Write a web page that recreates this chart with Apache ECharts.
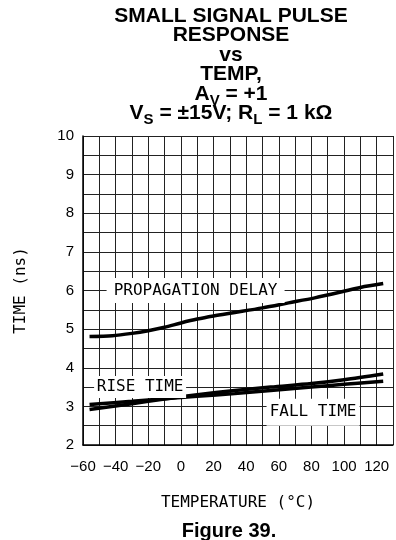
<!DOCTYPE html>
<html>
<head>
<meta charset="utf-8">
<script src="https://cdn.jsdelivr.net/npm/echarts@6/dist/echarts.min.js"></script>
<style>html,body{margin:0;padding:0;background:#fff;}#c{width:396px;height:540px;}</style>
</head>
<body>
<div id="c"></div>
<script>
// Data
const propTemp = [-56, -42, -30, -20, -10, 0, 10, 20, 33, 50, 66, 82, 98, 110, 124];
const propDelay = [4.81, 4.83, 4.89, 4.96, 5.05, 5.16, 5.26, 5.34, 5.43, 5.55, 5.68, 5.81, 5.96, 6.08, 6.18];
const riseTemp = [-56, -30, -10, 10, 33, 55, 80, 100, 124];
const riseTime = [3.05, 3.13, 3.2, 3.26, 3.33, 3.41, 3.5, 3.57, 3.65];
const fallTemp = [-56, -30, -10, 10, 33, 55, 80, 100, 124];
const fallTime = [2.92, 3.07, 3.19, 3.3, 3.41, 3.5, 3.59, 3.69, 3.84];
const xTickLabels = [-60, -40, -20, 0, 20, 40, 60, 80, 100, 120];
const yTickLabels = [2, 3, 4, 5, 6, 7, 8, 9, 10];

const pairs = (xs, ys) => xs.map((x, i) => [x, ys[i]]);
const monoFont = "'DejaVu Sans Mono', 'Liberation Mono', monospace";
const tickFont = "'Liberation Sans Narrow', 'Arial Narrow', 'Liberation Sans', sans-serif";
const boldFont = "'Liberation Sans', Arial, sans-serif";

function boxLabel(coord, text, w, h) {
  return {
    coord: coord, symbol: 'rect', symbolSize: [w, h],
    itemStyle: { color: '#fff' },
    label: { show: true, position: 'inside', formatter: text, color: '#000', fontFamily: monoFont, fontSize: 16 }
  };
}

const lineStyle = { color: '#000', width: 3.5 };
const chart = echarts.init(document.getElementById('c'));
chart.setOption({
  animation: false,
  backgroundColor: '#fff',
  title: [{
    text: 'SMALL SIGNAL PULSE\nRESPONSE\nvs\nTEMP,\nA{sub|V} = +1\nV{sub|S} = ±15V; R{sub|L} = 1 kΩ',
    left: 231, top: 6, textAlign: 'center', padding: 0,
    textStyle: {
      fontFamily: boldFont, fontWeight: 'bold', fontSize: 21, lineHeight: 19.5, color: '#000',
      rich: { sub: { fontFamily: boldFont, fontWeight: 'bold', fontSize: 15, lineHeight: 4, padding: [9, 0, 0, 0], verticalAlign: 'top', color: '#000' } }
    }
  }, {
    text: 'Figure 39.', left: 229, top: 521, textAlign: 'center', padding: 0,
    textStyle: { fontFamily: boldFont, fontWeight: 'bold', fontSize: 20, lineHeight: 20, color: '#000' }
  }],
  grid: { left: 83, right: 2, top: 136, bottom: 95 },
  xAxis: {
    type: 'value', min: -60, max: 130, interval: 10,
    name: 'TEMPERATURE (°C)', nameLocation: 'middle', nameGap: 50,
    nameTextStyle: { fontFamily: monoFont, fontSize: 16, color: '#000' },
    axisLine: { show: true, onZero: false, lineStyle: { color: '#000', width: 1.5 } },
    axisTick: { show: false },
    axisLabel: {
      color: '#000', fontFamily: tickFont, fontSize: 15, margin: 14,
      formatter: v => xTickLabels.includes(v) ? String(v).replace('-', '\u2212') : ''
    },
    splitLine: { show: true, lineStyle: { color: '#222', width: 1 } }
  },
  yAxis: {
    type: 'value', min: 2, max: 10, interval: 0.5,
    name: 'TIME (ns)', nameLocation: 'middle', nameGap: 54, nameRotate: 90,
    nameTextStyle: { fontFamily: monoFont, fontSize: 16, color: '#000' },
    axisLine: { show: true, onZero: false, lineStyle: { color: '#000', width: 1.5 } },
    axisTick: { show: false },
    axisLabel: {
      color: '#000', fontFamily: tickFont, fontSize: 15, margin: 9,
      formatter: v => yTickLabels.includes(v) ? String(v) : ''
    },
    splitLine: { show: true, lineStyle: { color: '#222', width: 1 } }
  },
  series: [{
    name: 'PROPAGATION DELAY', type: 'line', smooth: 0.3, symbol: 'none',
    lineStyle: lineStyle, data: pairs(propTemp, propDelay), z: 3,
    markPoint: { animation: false, data: [boxLabel([9, 6.0], 'PROPAGATION DELAY', 178, 25)] }
  }, {
    name: 'RISE TIME', type: 'line', smooth: 0.3, symbol: 'none',
    lineStyle: lineStyle, data: pairs(riseTemp, riseTime), z: 3,
    markPoint: { animation: false, data: [boxLabel([-25, 3.5], 'RISE TIME', 92, 22)] }
  }, {
    name: 'FALL TIME', type: 'line', smooth: 0.3, symbol: 'none',
    lineStyle: lineStyle, data: pairs(fallTemp, fallTime), z: 3,
    markPoint: { animation: false, data: [boxLabel([81, 2.85], 'FALL TIME', 93, 27)] }
  }]
});
</script>
</body>
</html>
